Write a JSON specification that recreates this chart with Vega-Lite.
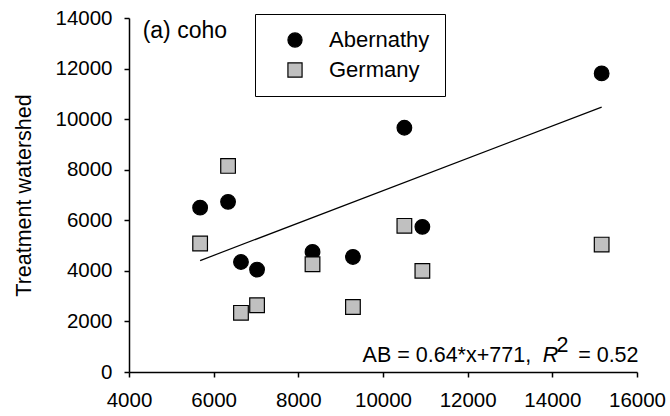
{
  "$schema": "https://vega.github.io/schema/vega-lite/v6.json",
  "width": 508,
  "height": 354,
  "autosize": {"type": "none"},
  "padding": {"left": 129, "top": 18, "right": 33, "bottom": 44},
  "background": "white",
  "config": {
    "font": "Liberation Sans",
    "view": {"stroke": null},
    "axis": {
      "grid": false,
      "domainColor": "black",
      "domainWidth": 1.5,
      "tickColor": "black",
      "tickWidth": 1.5,
      "tickSize": 5,
      "labelColor": "black",
      "labelFont": "Liberation Sans",
      "labelFontSize": 20.5,
      "labelOverlap": false,
      "labelFlush": false,
      "titleColor": "black",
      "titleFont": "Liberation Sans",
      "titleFontWeight": "normal"
    },
    "legend": {
      "title": null,
      "orient": "none",
      "legendX": 126,
      "legendY": -4,
      "strokeColor": "black",
      "padding": 15,
      "symbolOffset": 14,
      "labelOffset": 23,
      "rowPadding": 8,
      "labelFontSize": 22,
      "labelColor": "black",
      "labelFont": "Liberation Sans",
      "symbolSize": 200,
      "symbolStrokeColor": "black",
      "symbolStrokeWidth": 1.2,
      "symbolOpacity": 1
    }
  },
  "datasets": {
    "points": [
      {"control": 5680, "treatment": 6500, "site": "Abernathy"},
      {"control": 6340, "treatment": 6730, "site": "Abernathy"},
      {"control": 6645, "treatment": 4350, "site": "Abernathy"},
      {"control": 7025, "treatment": 4050, "site": "Abernathy"},
      {"control": 8335, "treatment": 4750, "site": "Abernathy"},
      {"control": 9290, "treatment": 4550, "site": "Abernathy"},
      {"control": 10505, "treatment": 9660, "site": "Abernathy"},
      {"control": 10930, "treatment": 5740, "site": "Abernathy"},
      {"control": 15165, "treatment": 11810, "site": "Abernathy"},
      {"control": 5680, "treatment": 5080, "site": "Germany"},
      {"control": 6340, "treatment": 8150, "site": "Germany"},
      {"control": 6645, "treatment": 2340, "site": "Germany"},
      {"control": 7025, "treatment": 2640, "site": "Germany"},
      {"control": 8335, "treatment": 4260, "site": "Germany"},
      {"control": 9290, "treatment": 2570, "site": "Germany"},
      {"control": 10505, "treatment": 5780, "site": "Germany"},
      {"control": 10930, "treatment": 4000, "site": "Germany"},
      {"control": 15165, "treatment": 5040, "site": "Germany"}
    ],
    "fit": [
      {"control": 5680, "treatment": 4406.2},
      {"control": 15165, "treatment": 10476.6}
    ],
    "notes": [
      {"kind": "panel", "x": 4323, "y": 13196, "label": "(a) coho"},
      {"kind": "eq", "x": 9518, "y": 380, "label": "AB = 0.64*x+771,"},
      {"kind": "italic", "x": 13775, "y": 380, "label": "R"},
      {"kind": "sup", "x": 14098, "y": 790, "label": "2"},
      {"kind": "eq", "x": 14610, "y": 380, "label": "= 0.52"}
    ]
  },
  "layer": [
    {
      "data": {"name": "fit"},
      "mark": {"type": "line", "color": "black", "strokeWidth": 1.2},
      "encoding": {
        "x": {"field": "control", "type": "quantitative", "scale": {"domain": [4000, 16000], "nice": false, "zero": false},
          "axis": {"title": null, "values": [4000, 6000, 8000, 10000, 12000, 14000, 16000], "format": "d", "labelPadding": 13}},
        "y": {"field": "treatment", "type": "quantitative", "scale": {"domain": [0, 14000], "nice": false},
          "axis": {"title": "Treatment watershed", "values": [0, 2000, 4000, 6000, 8000, 10000, 12000, 14000], "format": "d", "labelPadding": 12,
            "titleFontSize": 21.5, "titleAngle": 270, "titleX": -99, "titleY": 177, "titleAlign": "center", "titleBaseline": "alphabetic"}}
      }
    },
    {
      "data": {"name": "points"},
      "mark": {"type": "point", "filled": true, "strokeWidth": 1.2, "size": 215, "opacity": 1},
      "encoding": {
        "x": {"field": "control", "type": "quantitative"},
        "y": {"field": "treatment", "type": "quantitative"},
        "shape": {"field": "site", "type": "nominal",
          "scale": {"domain": ["Abernathy", "Germany"], "range": ["circle", "square"]}},
        "fill": {"field": "site", "type": "nominal",
          "scale": {"domain": ["Abernathy", "Germany"], "range": ["black", "#c0c0c0"]}},
        "stroke": {"field": "site", "type": "nominal",
          "scale": {"domain": ["Abernathy", "Germany"], "range": ["black", "black"]}}
      }
    },
    {
      "data": {"name": "notes"},
      "transform": [{"filter": "datum.kind === 'panel'"}],
      "mark": {"type": "text", "align": "left", "baseline": "alphabetic", "fontSize": 23, "color": "black"},
      "encoding": {
        "x": {"field": "x", "type": "quantitative"},
        "y": {"field": "y", "type": "quantitative"},
        "text": {"field": "label"}
      }
    },
    {
      "data": {"name": "notes"},
      "transform": [{"filter": "datum.kind === 'eq' || datum.kind === 'sup'"}],
      "mark": {"type": "text", "align": "left", "baseline": "alphabetic", "fontSize": 21.5, "color": "black"},
      "encoding": {
        "x": {"field": "x", "type": "quantitative"},
        "y": {"field": "y", "type": "quantitative"},
        "text": {"field": "label"}
      }
    },
    {
      "data": {"name": "notes"},
      "transform": [{"filter": "datum.kind === 'italic'"}],
      "mark": {"type": "text", "align": "left", "baseline": "alphabetic", "fontSize": 21.5, "fontStyle": "italic", "color": "black"},
      "encoding": {
        "x": {"field": "x", "type": "quantitative"},
        "y": {"field": "y", "type": "quantitative"},
        "text": {"field": "label"}
      }
    }
  ]
}
